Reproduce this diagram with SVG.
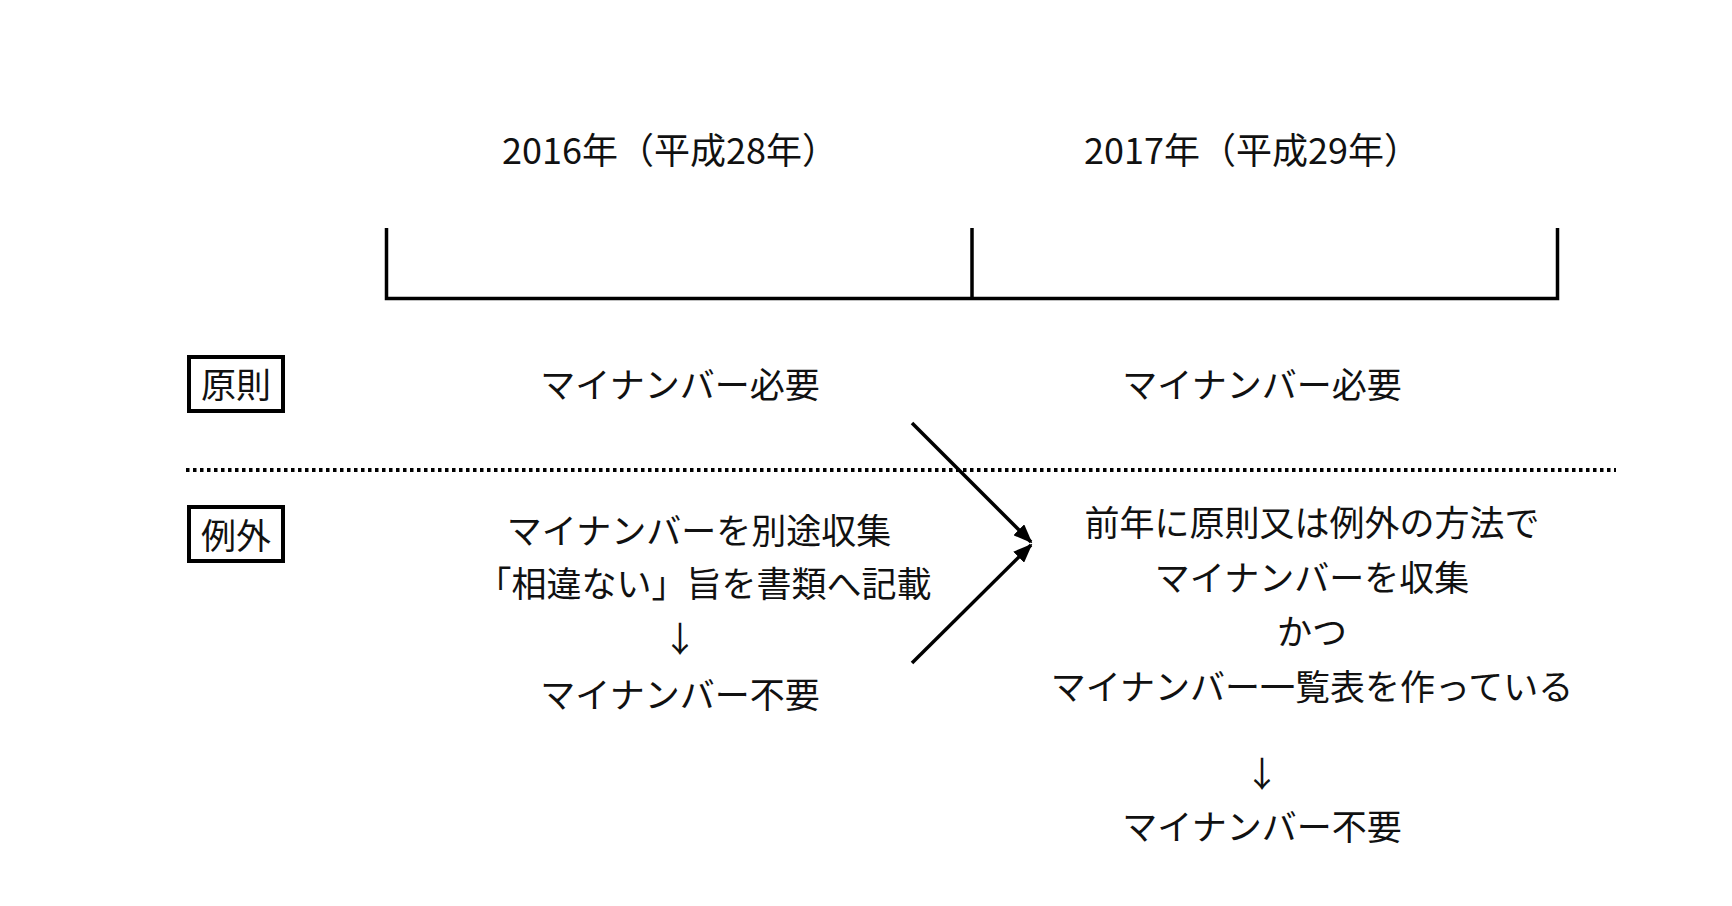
<svg xmlns="http://www.w3.org/2000/svg" width="1732" height="906" viewBox="0 0 1732 906">
<style>
text{font-family:"Noto Sans CJK JP","Noto Sans",sans-serif;font-size:35px;fill:#111;text-anchor:middle;dominant-baseline:central}
.yr{font-size:36px}
.tl{stroke:#000;stroke-width:3.5;fill:none}
.box{fill:#fff;stroke:#000;stroke-width:4}
.arr{stroke:#000;stroke-width:3.5;fill:none;marker-end:url(#ah)}
</style>
<defs>
<marker id="ah" viewBox="0 0 10 8" refX="9" refY="4" markerWidth="5.5" markerHeight="4.4" orient="auto" markerUnits="strokeWidth">
<path d="M0,0 L10,4 L0,8 z" fill="#000"/>
</marker>
</defs>
<rect width="1732" height="906" fill="#fff"/>
<g id="timeline">
<path class="tl" d="M386.5,228 V298.5 H1557.5 V228 M972,228 V298.5"/>
</g>
<g id="year2016"><text class="yr" x="670" y="148">2016年（平成28年）</text></g>
<g id="year2017"><text class="yr" x="1252" y="148">2017年（平成29年）</text></g>
<g id="divider"><line x1="186" y1="470" x2="1616" y2="470" stroke="#000" stroke-width="4" stroke-dasharray="3.5 3.5"/></g>
<g id="label-gensoku"><rect class="box" x="189" y="357" width="94" height="54"/><text x="236" y="382">原則</text></g>
<g id="label-reigai"><rect class="box" x="189" y="507" width="94" height="54"/><text x="236" y="533">例外</text></g>
<g id="gensoku-2016"><text x="680" y="382">マイナンバー必要</text></g>
<g id="gensoku-2017"><text x="1262" y="382">マイナンバー必要</text></g>
<g id="reigai-2016">
<text x="699" y="528">マイナンバーを別途収集</text>
<text x="704" y="581">「相違ない」旨を書類へ記載</text>
<text x="680" y="636">↓</text>
<text x="680" y="692">マイナンバー不要</text>
</g>
<g id="reigai-2017">
<text x="1312" y="520">前年に原則又は例外の方法で</text>
<text x="1312" y="575">マイナンバーを収集</text>
<text x="1312" y="629">かつ</text>
<text x="1312" y="684">マイナンバー一覧表を作っている</text>
<text x="1262" y="771">↓</text>
<text x="1262" y="824">マイナンバー不要</text>
</g>
<g id="connectors">
<line class="arr" x1="912" y1="423" x2="1031" y2="542"/>
<line class="arr" x1="912" y1="663" x2="1031" y2="545"/>
</g>
</svg>
